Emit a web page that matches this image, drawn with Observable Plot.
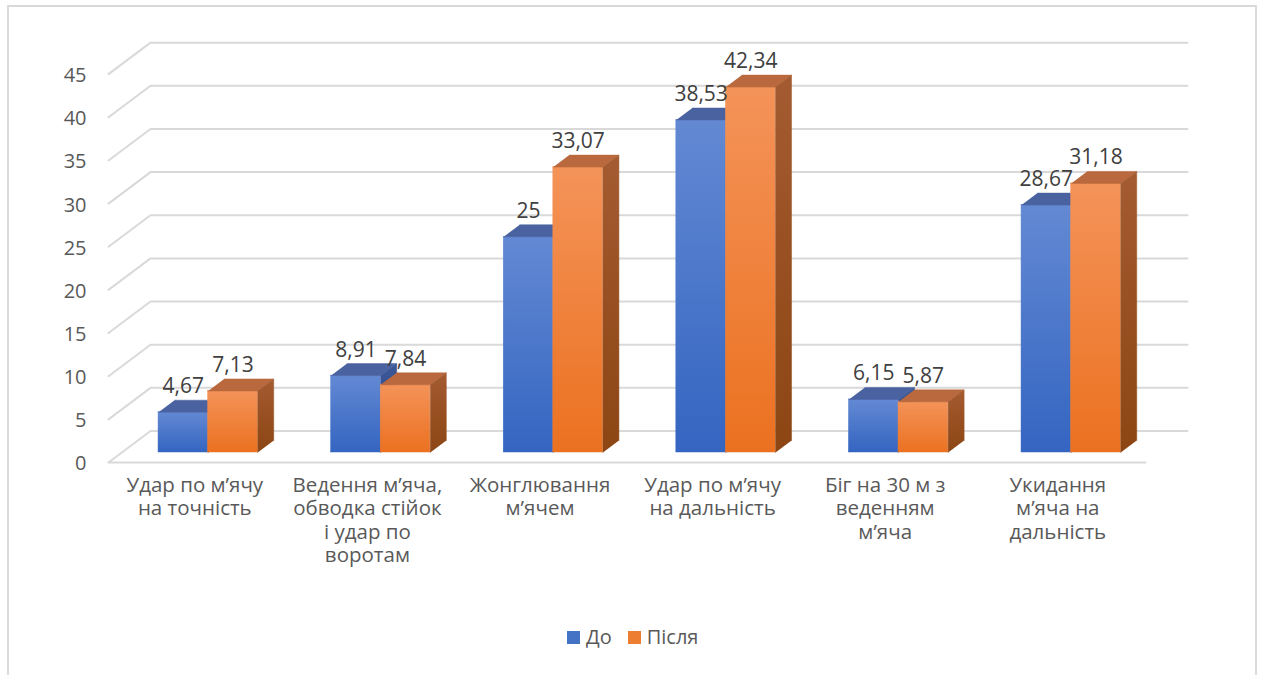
<!DOCTYPE html>
<html><head><meta charset="utf-8">
<script src="https://cdn.jsdelivr.net/npm/d3@7"></script>
<script src="https://cdn.jsdelivr.net/npm/@observablehq/plot@0.6"></script>
<style>
html,body{margin:0;padding:0;background:#fff;overflow:hidden}
body{width:1261px;height:675px;position:relative;font-family:"Open Sans",sans-serif}
#frame{position:absolute;left:7px;top:5px;width:1250px;height:720px;border:2px solid #d9d9d9;box-sizing:border-box}
#chart{position:absolute;left:0;top:0}
#legend{position:absolute;left:567px;top:624px;display:flex;align-items:center;font-size:20px;color:#595959;line-height:26px}
#legend .sw{display:inline-block;width:13px;height:13px;margin-right:6px}
#legend .item{display:flex;align-items:center;margin-right:16px}
</style></head><body>
<div id="frame"></div>
<div id="chart"></div>
<div id="legend"></div>
<script>
// ---- data ----
const categories = [
  "Удар по м’ячу\nна точність",
  "Ведення м’яча,\nобводка стійок\nі удар по\nворотам",
  "Жонглювання\nм’ячем",
  "Удар по м’ячу\nна дальність",
  "Біг на 30 м з\nведенням\nм’яча",
  "Укидання\nм’яча на\nдальність"
];
const seriesNames = ["До", "Після"];
const before = [4.67, 8.91, 25, 38.53, 6.15, 28.67];
const after = [7.13, 7.84, 33.07, 42.34, 5.87, 31.18];
const yTicks = [0, 5, 10, 15, 20, 25, 30, 35, 40, 45];

// ---- pseudo-3D layout (depth offsets expressed in scale units) ----
const DX = 42 / 172.6, DY = 31.5 / 8.63;
const K0 = 10 / 31.5, K1 = 22 / 31.5;
const BW = 49.6 / 172.6;
const uL = -0.2126, uR = 5.7955;
const P = (u, v, k) => ({x: u + k * DX, y: v + k * DY});

const valuesBySeries = [before, after];
const bars = [];
valuesBySeries.forEach((vals, s) => vals.forEach((v, i) => {
  bars.push({i, s, value: v, u1: i + s * BW, u2: i + (s + 1) * BW, label: String(v).replace(".", ",")});
}));

function topFace(b) {
  return [P(b.u1, b.value, K0), P(b.u2, b.value, K0), P(b.u2, b.value, K1), P(b.u1, b.value, K1)]
    .map(p => ({...p, id: `${b.s}-${b.i}`}));
}
function sideFace(b) {
  return [P(b.u2, 0, K0), P(b.u2, b.value, K0), P(b.u2, b.value, K1), P(b.u2, 0, K1)]
    .map(p => ({...p, id: `${b.s}-${b.i}`}));
}

const grid = [];
yTicks.forEach(t => {
  [P(uL, t, 0), P(uL, t, 1), P(uR, t, 1)].forEach(p => grid.push({...p, id: "g" + t}));
});
[P(uL, 0, 0), P(uR, 0, 0)].forEach(p => grid.push({...p, id: "front"}));

const shadows = [];
categories.forEach((c, i) => {
  const r = i + 2 * BW;
  [P(i - 0.08, 0, K0 + 0.04), P(r + 0.01, 0, K0 + 0.04), P(r + 0.15, 0, K1 + 0.3), P(i - 0.04, 0, K1 + 0.3)]
    .forEach(p => shadows.push({...p, id: "s" + i}));
});

const fills = [
  {front: "url(#gBlueFront)", top: "#4a62a0", side: "url(#gBlueSide)"},
  {front: "url(#gOrangeFront)", top: "#b9693d", side: "url(#gOrangeSide)"}
];

const marks = [
  Plot.line(grid, {x: "x", y: "y", z: "id", stroke: "#d9d9d9", strokeWidth: 2}),
  Plot.line(shadows, {x: "x", y: "y", z: "id", fill: "#000", fillOpacity: 1, stroke: "none", ariaLabel: "shadow"})
];
[0, 1].forEach(s => {
  const bs = bars.filter(b => b.s === s);
  const f = fills[s];
  marks.push(
    Plot.rect(bs, {x1: b => b.u1 + K0 * DX, x2: b => b.u2 + K0 * DX, y1: K0 * DY, y2: b => b.value + K0 * DY, fill: f.front, stroke: f.front, strokeWidth: 0.5}),
    Plot.line(bs.flatMap(topFace), {x: "x", y: "y", z: "id", fill: f.top, stroke: f.top, strokeWidth: 0.5}),
    Plot.line(bs.flatMap(sideFace), {x: "x", y: "y", z: "id", fill: f.side, stroke: f.side, strokeWidth: 0.5})
  );
});
marks.push(
  Plot.text(bars, {x: b => (b.u1 + b.u2) / 2 + K0 * DX, y: b => b.value + K0 * DY, text: "label", lineAnchor: "bottom", dy: -19, fontSize: 21, fill: "#404040"}),
  Plot.text(yTicks, {x: () => uL, y: t => t, text: t => String(t), textAnchor: "end", dx: -22, dy: 1.5, fontSize: 20, fill: "#595959"}),
  Plot.text(categories, {x: (c, i) => i + BW, y: () => 0, text: c => c, lineAnchor: "top", dy: 13, lineHeight: 1.14, fontSize: 20.5, fill: "#595959"})
);

const chart = Plot.plot({
  width: 1261, height: 615, margin: 0,
  x: {type: "linear", domain: [0, 6], range: [144.7, 144.7 + 6 * 172.6], axis: null},
  y: {type: "linear", domain: [0, 45], range: [462, 462 - 45 * 8.63], axis: null},
  style: {fontFamily: "'Open Sans', sans-serif", background: "transparent", overflow: "visible"},
  marks
});

const svg = d3.select(chart);
const defs = svg.insert("defs", ":first-child");
function grad(id, c0, c1) {
  const g = defs.append("linearGradient").attr("id", id).attr("x1", 0).attr("y1", 0).attr("x2", 0).attr("y2", 1);
  g.append("stop").attr("offset", "0%").attr("stop-color", c0);
  g.append("stop").attr("offset", "100%").attr("stop-color", c1);
}
grad("gBlueFront", "#6389d3", "#3465c1");
grad("gOrangeFront", "#f49359", "#eb7120");
grad("gBlueSide", "#3c5797", "#2f4a88");
grad("gOrangeSide", "#a45b31", "#8c4513");
const flt = defs.append("filter").attr("id", "blur").attr("x", "-50%").attr("y", "-50%").attr("width", "200%").attr("height", "200%");
flt.append("feGaussianBlur").attr("stdDeviation", 4);
svg.selectAll('g[aria-label="shadow"]').attr("filter", "url(#blur)");

document.getElementById("chart").appendChild(chart);

const colors = ["#4472c4", "#ed7d31"];
const legend = d3.select("#legend");
seriesNames.forEach((n, i) => {
  const it = legend.append("div").attr("class", "item");
  it.append("span").attr("class", "sw").style("background", colors[i]);
  it.append("span").text(n);
});
</script>
</body></html>
